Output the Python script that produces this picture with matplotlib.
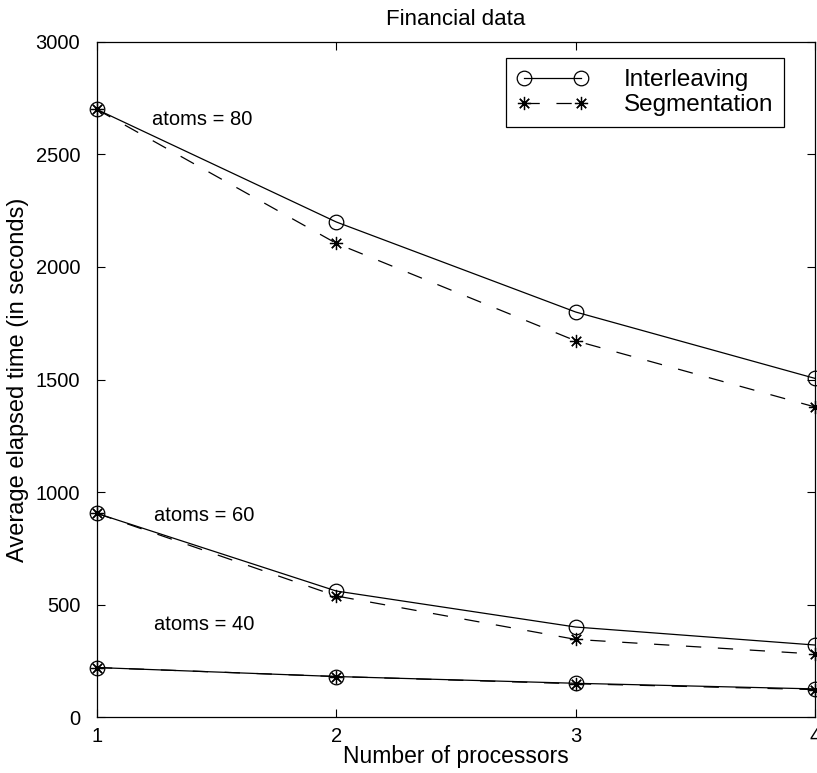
import matplotlib
matplotlib.use("Agg")
import matplotlib.pyplot as plt

plt.rcParams['font.family'] = ['Liberation Sans', 'DejaVu Sans']
plt.rcParams['lines.scale_dashes'] = False

processors = [1, 2, 3, 4]

# Average elapsed time (seconds) for each problem size
interleaving = {
    80: [2700, 2200, 1800, 1505],
    60: [905, 560, 400, 320],
    40: [220, 180, 150, 125],
}
segmentation = {
    80: [2700, 2105, 1672, 1378],
    60: [905, 538, 345, 280],
    40: [220, 180, 148, 122],
}
annot_labels = {80: "atoms = 80", 60: "atoms = 60", 40: "atoms = 40"}
annot_pos = {80: (1.23, 2655), 60: (1.24, 895), 40: (1.24, 413)}

fig = plt.figure(figsize=(8.17, 7.73), dpi=100)
ax = fig.add_axes([0.1187, 0.0724, 0.8788, 0.8733])

star = (8, 2, 0)
for i, n in enumerate([80, 60, 40]):
    ax.plot(processors, interleaving[n], '-', color='black', lw=0.9,
            marker='o', ms=10.5, mfc='none', mec='black', mew=0.9,
            clip_on=False, label='Interleaving' if i == 0 else None)
    ax.plot(processors, segmentation[n], color='black', lw=0.9,
            dashes=(11, 12), marker=star, ms=9.5, mec='black', mew=0.9,
            clip_on=False, label='Segmentation' if i == 0 else None)
    ax.text(*annot_pos[n], annot_labels[n], fontsize=14.5, ha='left', va='center')

ax.set_xlim(1, 4)
ax.set_ylim(0, 3000)
ax.set_xticks(processors)
ax.set_yticks(range(0, 3001, 500))
ax.tick_params(direction='in', length=6, width=0.8, labelsize=14.5,
               top=True, right=True)
ax.tick_params(axis='y', pad=12)
ax.tick_params(axis='x', pad=7)
for s in ax.spines.values():
    s.set_linewidth(0.9)

ax.set_xlabel("Number of processors", fontsize=16.5)
ax.set_ylabel("Average elapsed time (in seconds)", fontsize=17)
ax.xaxis.set_label_coords(0.5, -0.042)
ax.yaxis.set_label_coords(-0.095, 0.5)
ax.set_title("Financial data", fontsize=16, pad=12)

leg = ax.legend(loc='upper right', bbox_to_anchor=(0.957, 0.976),
                borderaxespad=0, numpoints=2, handlelength=2.95, fontsize=17.5,
                frameon=True, fancybox=False, edgecolor='black', framealpha=1,
                borderpad=0.45, labelspacing=0.12, handletextpad=1.45)
leg.get_frame().set_linewidth(0.9)

fig.savefig("out.png", dpi=100)
